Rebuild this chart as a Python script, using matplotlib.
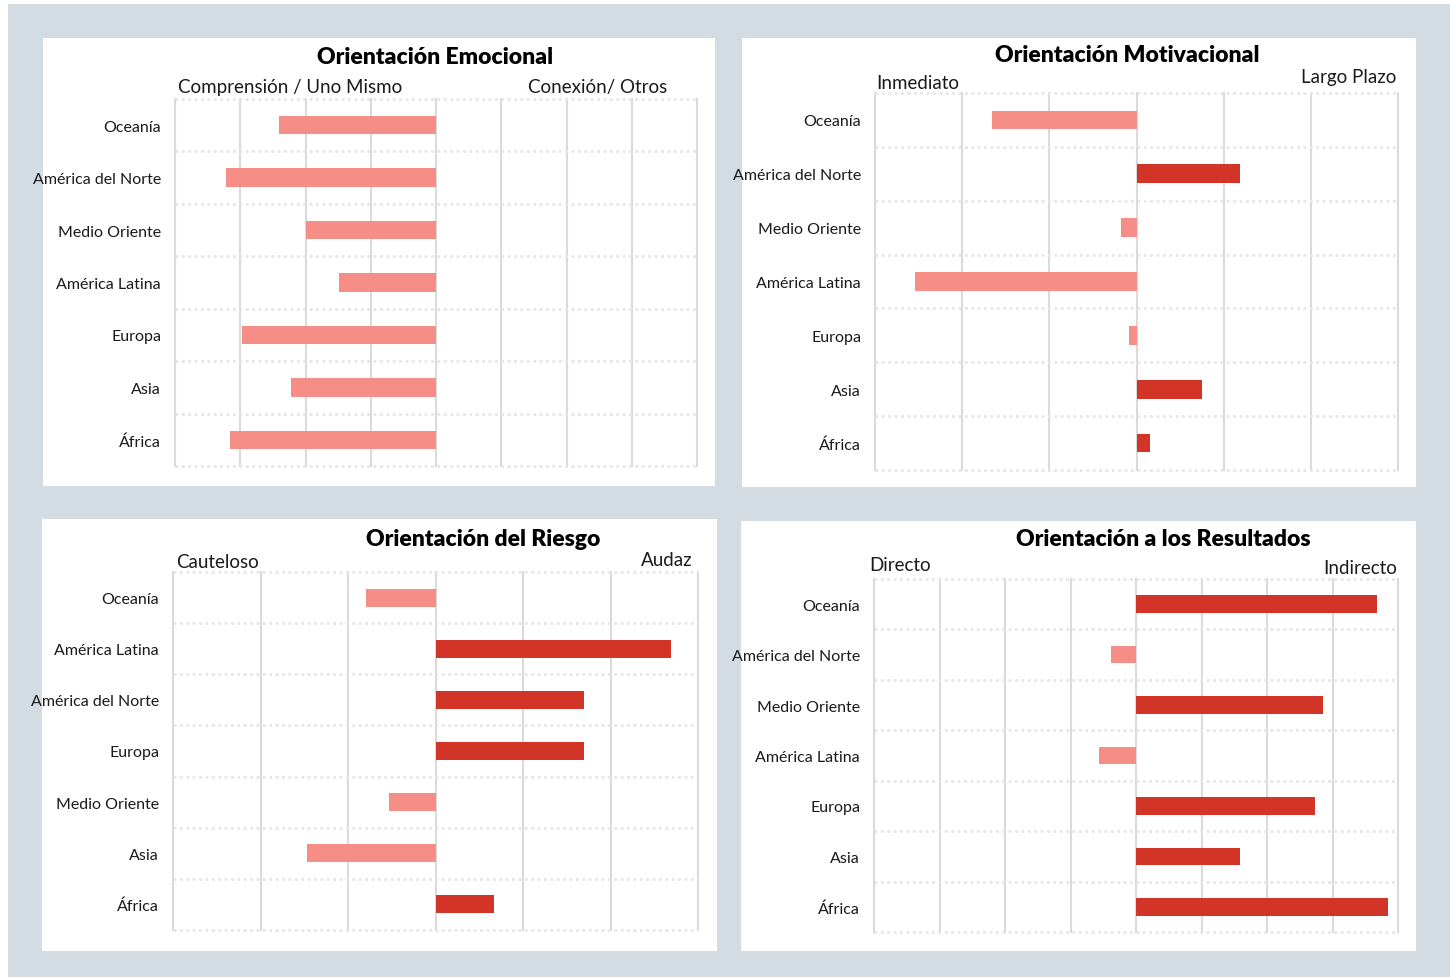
import numpy as np
import matplotlib.pyplot as plt
from matplotlib.patches import Rectangle

plt.rcParams['font.family'] = ['Lato', 'DejaVu Sans']

W, H = 1450, 978

# datos (unidades = una division de la rejilla)
titles = ['Orientación Emocional', 'Orientación Motivacional',
          'Orientación del Riesgo', 'Orientación a los Resultados']
left_labels = ['Comprensión / Uno Mismo', 'Inmediato', 'Cauteloso', 'Directo']
right_labels = ['Conexión/ Otros', 'Largo Plazo', 'Audaz', 'Indirecto']

cats_emocional = ['Oceanía', 'América del Norte', 'Medio Oriente', 'América Latina',
                  'Europa', 'Asia', 'África']
vals_emocional = [-2.40, -3.22, -1.99, -1.49, -2.97, -2.22, -3.15]

cats_motivacional = ['Oceanía', 'América del Norte', 'Medio Oriente', 'América Latina',
                     'Europa', 'Asia', 'África']
vals_motivacional = [-1.66, 1.19, -0.18, -2.54, -0.09, 0.75, 0.15]

cats_riesgo = ['Oceanía', 'América Latina', 'América del Norte', 'Europa',
               'Medio Oriente', 'Asia', 'África']
vals_riesgo = [-0.80, 2.69, 1.70, 1.70, -0.53, -1.47, 0.67]

cats_resultados = ['Oceanía', 'América del Norte', 'Medio Oriente', 'América Latina',
                   'Europa', 'Asia', 'África']
vals_resultados = [3.68, -0.38, 2.85, -0.56, 2.73, 1.59, 3.85]

NEG = '#f48e87'
POS = '#d33428'


def fbox(x0, y0, x1, y1):
    return [x0 / W, 1 - y1 / H, (x1 - x0) / W, (y1 - y0) / H]


fig = plt.figure(figsize=(W / 100, H / 100), dpi=100, facecolor='white')
# fondo gris
fig.patches.append(Rectangle((8 / W, 0), 1 - 8 / W, 1 - 5 / H, transform=fig.transFigure,
                             facecolor='#d3dbe3', edgecolor='none', zorder=-2))

panels = [(43, 39, 715, 487), (742, 39, 1416, 488), (42, 520, 717, 952), (741, 522, 1416, 952)]
axboxes = [(175, 100, 697, 467), (875, 94, 1398, 471), (173, 573, 698, 931), (874, 580, 1398, 933)]
lims = [4, 3, 3, 4]
all_cats = [cats_emocional, cats_motivacional, cats_riesgo, cats_resultados]
all_vals = [vals_emocional, vals_motivacional, vals_riesgo, vals_resultados]
# posiciones de textos (px): titulo, izquierda, derecha
title_pos = [(435, 57), (1127, 56), (483, 540), (1163, 539)]
lpos = [(178, 87), (876, 84), (176, 562), (869, 566)]
rpos = [(667, 87), (1396, 78), (693, 560), (1397, 569)]

for i in range(4):
    p = panels[i]
    fig.patches.append(Rectangle((p[0] / W, 1 - p[3] / H), (p[2] - p[0]) / W, (p[3] - p[1]) / H,
                                 transform=fig.transFigure, facecolor='white',
                                 edgecolor='none', zorder=-1))
    ax = fig.add_axes(fbox(*axboxes[i]))
    ax.set_facecolor('none')
    cats = all_cats[i]
    vals = np.array(all_vals[i])
    y = np.arange(len(cats))
    colors = [POS if v > 0 else NEG for v in vals]
    ax.barh(y, vals, height=0.35, color=colors, zorder=3)
    L = lims[i]
    ax.set_xlim(-L, L)
    ax.set_ylim(len(cats) - 0.5, -0.5)
    for xv in range(-L, L + 1):
        ax.axvline(xv, color='#dadada', lw=1.5, zorder=1, clip_on=False)
    for yv in np.arange(-0.5, len(cats), 1.0):
        ax.axhline(yv, color='#e6e6e6', lw=2.0, ls=(0, (1, 1.3)), zorder=1, clip_on=False)
    ax.set_xticks([])
    ax.set_yticks(y)
    ax.set_yticklabels(cats, fontsize=11.5, color='#1a1a1a')
    ax.tick_params(axis='y', length=0, pad=10)
    for s in ax.spines.values():
        s.set_visible(False)

    tx, ty = title_pos[i]
    fig.text(tx / W, 1 - ty / H, titles[i], ha='center', va='center',
             fontsize=16.5, fontweight='heavy', color='black')
    lx, ly = lpos[i]
    fig.text(lx / W, 1 - ly / H, left_labels[i], ha='left', va='center',
             fontsize=13.5, color='#1a1a1a')
    rx, ry = rpos[i]
    fig.text(rx / W, 1 - ry / H, right_labels[i], ha='right', va='center',
             fontsize=13.5, color='#1a1a1a')

fig.savefig('out.png', dpi=100, facecolor=fig.get_facecolor())
